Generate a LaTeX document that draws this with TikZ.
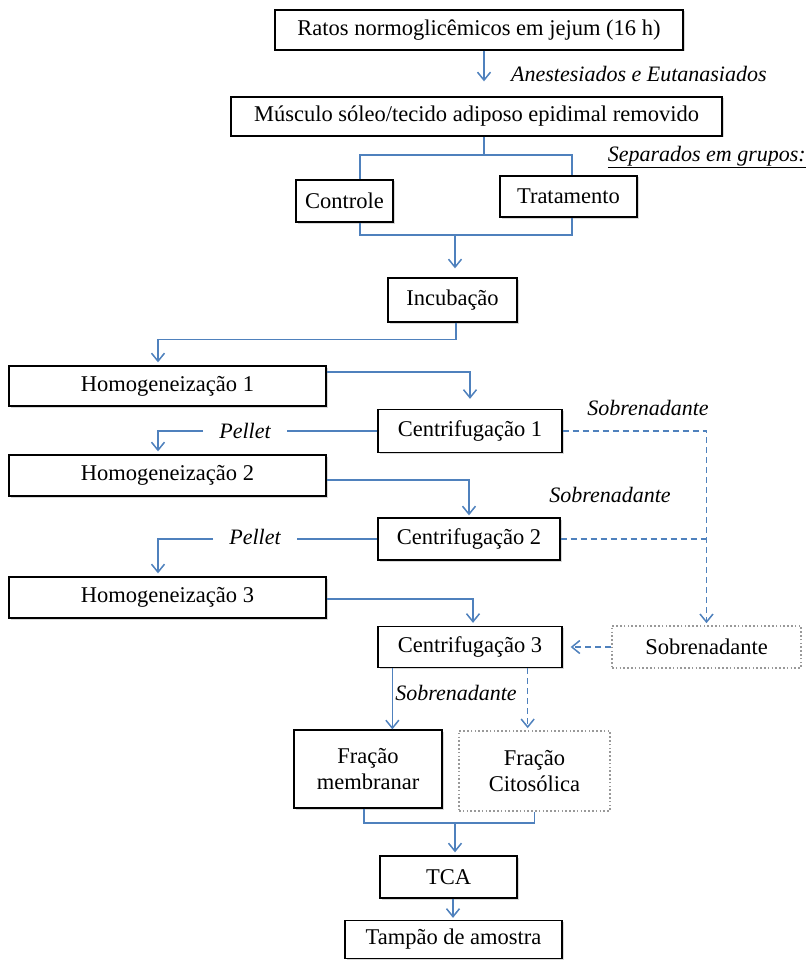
\documentclass[tikz,border=0pt]{standalone}
\usepackage{fontspec}
\setmainfont{Liberation Serif}
\usetikzlibrary{arrows.meta,positioning,calc,shadows}

\definecolor{flowblue}{RGB}{79,129,189}

\begin{document}
\begin{tikzpicture}[
    x=1pt, y=-1pt,
    font=\fontsize{22.5}{26}\selectfont,
    box/.style={draw, line width=1.3pt, fill=white, inner sep=0pt, align=center,
        drop shadow={shadow xshift=1.5pt, shadow yshift=-1.5pt, fill=gray!60}},
    ghost/.style={draw=gray!80, dash pattern=on 1.6pt off 2.2pt, line width=1.6pt, inner sep=0pt, align=center},
    link/.style={draw=flowblue, line width=1.5pt},
    flow/.style={link, -{Straight Barb[length=8pt,width=13pt]}},
    dashed line/.style={dash pattern=on 6pt off 4pt},
    dashflow/.style={flow, dashed line},
    note/.style={font=\fontsize{22}{26}\selectfont\itshape, inner sep=1pt},
    gapnote/.style={note, inner xsep=16pt},
]
\useasboundingbox (0,0) rectangle (808,960);

% boxes
\node[box, minimum width=408, minimum height=40] (ratos)      at (479,30)      {Ratos normoglicêmicos em jejum (16 h)};
\node[box, minimum width=491, minimum height=39] (musculo)    at (476.5,116.5) {Músculo sóleo/tecido adiposo epidimal removido};
\node[box, minimum width=97,  minimum height=42] (controle)   at (344.5,201)   {Controle};
\node[box, minimum width=137, minimum height=41] (tratamento) at (568.5,196.5) {Tratamento};
\node[box, minimum width=129, minimum height=44] (incub)      at (452.5,300)   {Incubação};
\node[box, minimum width=317, minimum height=40] (hom1)       at (167.5,386)   {Homogeneização 1};
\node[box, minimum width=184, minimum height=43] (cent1)      at (470,431)     {Centrifugação 1};
\node[box, minimum width=317, minimum height=41] (hom2)       at (167.5,475.5) {Homogeneização 2};
\node[box, minimum width=182, minimum height=42] (cent2)      at (469,539)     {Centrifugação 2};
\node[box, minimum width=317, minimum height=41] (hom3)       at (167.5,597.5) {Homogeneização 3};
\node[box, minimum width=184, minimum height=41] (cent3)      at (470,647)     {Centrifugação 3};
\node[ghost, minimum width=189, minimum height=42] (sobre)    at (706.5,647)   {Sobrenadante};
\node[box, minimum width=148, minimum height=78] (membr)      at (368,769)     {Fração\\membranar};
\node[ghost, minimum width=151, minimum height=80] (citos)    at (534.5,771)   {Fração\\Citosólica};
\node[box, minimum width=137, minimum height=42] (tca)        at (448.5,877)   {TCA};
\node[box, minimum width=217, minimum height=38] (tampao)     at (453.5,939.5) {Tampão de amostra};

% labels
\node[note, anchor=west] (anest) at (510,74) {Anestesiados e Eutanasiados};
\node[note, anchor=base east] (separ) at (807,161) {\underline{Separados em grupos:}};
\node[gapnote] (pel1) at (245,431) {Pellet};
\node[gapnote] (pel2) at (255,537) {Pellet};
\node[note] (sob1) at (648,408) {Sobrenadante};
\node[note] (sob2) at (610,495) {Sobrenadante};
\node[note] (sob3) at (456,693) {Sobrenadante};

% connectors
\coordinate (split) at (484,155);
\coordinate (merge) at (455,235);
\coordinate (join) at (455,823);

\draw[flow, shorten >=15pt] ([xshift=5pt]ratos.south) -- ([xshift=5pt]ratos.south |- musculo.north);
\draw[link] (musculo.south -| split) -- (split);
\draw[link] ([xshift=15.5pt]controle.north) |- (split) -| ([xshift=3.5pt]tratamento.north);
\draw[link] ([xshift=15.5pt]controle.south) |- (merge) -| ([xshift=3.5pt]tratamento.south);
\draw[flow, shorten >=9pt] (merge) -- (merge |- incub.north);

\draw[flow, shorten >=3pt] ([xshift=3.5pt]incub.south) -- ++(0,17) -| ([xshift=-9.5pt]hom1.north);
\draw[flow, shorten >=10pt] ([yshift=14pt]hom1.east) -| (cent1.north);
\draw[link] (cent1.west) -- (cent1.west -| pel1.east);
\draw[flow, shorten >=3pt] (cent1.west -| pel1.west) -| ([xshift=-9.5pt]hom2.north);
\draw[flow, shorten >=2pt] ([yshift=-4.5pt]hom2.east) -| (cent2.north);
\draw[link] (cent2.west) -- (cent2.west -| pel2.east);
\draw[flow, shorten >=3pt] (cent2.west -| pel2.west) -| ([xshift=-9.5pt]hom3.north);
\draw[flow, shorten >=3pt] ([yshift=-1.5pt]hom3.east) -| ([xshift=3pt]cent3.north);

\draw[dashflow, shorten >=2pt] (cent1.east) -| (sobre.north);
\draw[link, dashed line] (cent2.east) -- (cent2.east -| sobre.north);
\draw[dashflow, shorten >=8pt] (sobre.west) -- (cent3.east);

\draw[flow] ([xshift=15pt]cent3.south west) -- ([xshift=15pt]cent3.south west |- membr.north);
\draw[dashflow, shorten >=2pt] ([xshift=-35pt]cent3.south east) -- ([xshift=-35pt]cent3.south east |- citos.north);

\draw[link] ([xshift=-4pt]membr.south) |- (join) -| (citos.south);
\draw[flow, shorten >=3pt] (join) -- (join |- tca.north);
\draw[flow, shorten >=2pt] ([xshift=4.5pt]tca.south) -- ([xshift=4.5pt]tca.south |- tampao.north);
\end{tikzpicture}
\end{document}
